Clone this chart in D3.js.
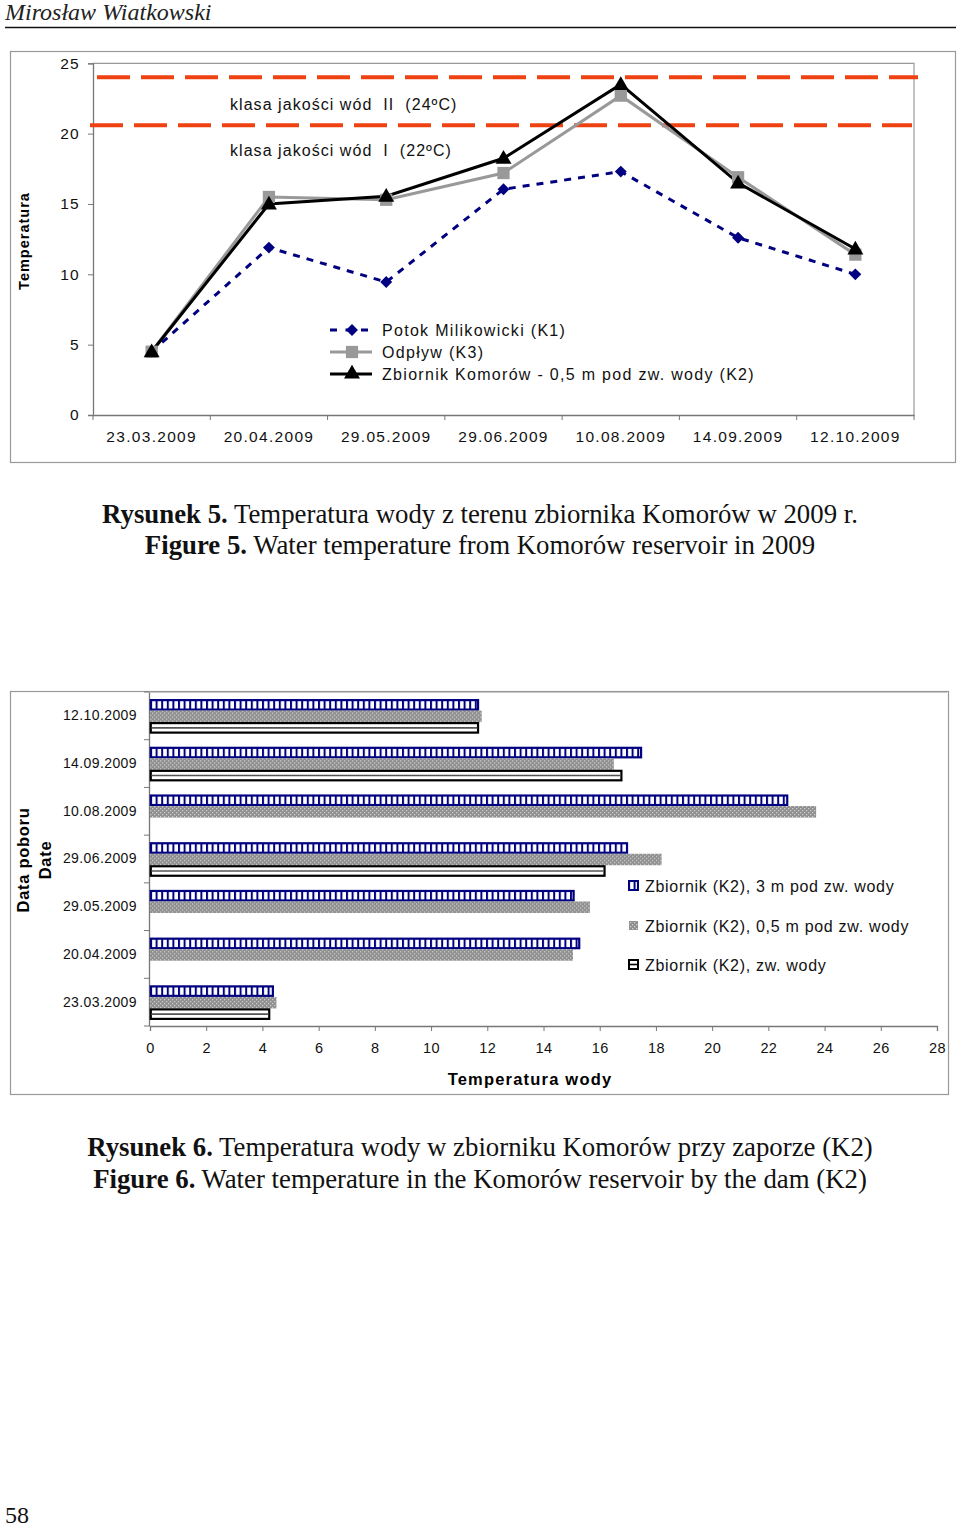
<!DOCTYPE html>
<html>
<head>
<meta charset="utf-8">
<script src="https://cdn.jsdelivr.net/npm/d3@7"></script>
<style>
  body { margin: 0; background: #fff; }
  svg { display: block; }
  text { white-space: pre; }
</style>
</head>
<body>
<svg id="page" width="960" height="1527"></svg>
<script>
(function() {
  // ---- data ----
  var dates = ["23.03.2009", "20.04.2009", "29.05.2009", "29.06.2009", "10.08.2009", "14.09.2009", "12.10.2009"];

  // figure 5 (line chart)
  var k1 = [4.5, 11.9, 9.45, 16.05, 17.3, 12.6, 10.0];   // Potok Milikowicki
  var k3 = [4.5, 15.5, 15.3, 17.2, 22.7, 16.9, 11.4];    // Odpływ
  var k2 = [4.5, 15.0, 15.55, 18.25, 23.5, 16.5, 11.8];  // Zbiornik 0,5 m
  var refLines = [24.0, 20.6];
  var refLabels = ["klasa jakości wód  II  (24\u00BAC)", "klasa jakości wód  I  (22\u00BAC)"];
  var yTicksLine = [0, 5, 10, 15, 20, 25];

  // figure 6 (bar chart)
  var bar3m  = [4.4, 15.3, 15.1, 17.0, 22.7, 17.5, 11.7];
  var bar05m = [4.5, 15.05, 15.65, 18.2, 23.7, 16.5, 11.8];
  var barSurf = [4.27, null, null, 16.2, null, 16.8, 11.7];
  var xTicksBar = d3.range(0, 29, 2);
  var barSeries = ["Zbiornik (K2), 3 m pod zw. wody", "Zbiornik (K2), 0,5 m pod zw. wody", "Zbiornik (K2), zw. wody"];

  var svg = d3.select("#page");
  var sans = "Liberation Sans, Arial, sans-serif";
  var serif = "Liberation Serif, Times New Roman, serif";

  // ---- page header ----
  svg.append("text").attr("x", 5).attr("y", 20)
    .style("font-family", serif).style("font-style", "italic").style("font-size", "24px")
    .style("fill", "#222").text("Mirosław Wiatkowski");
  svg.append("line").attr("x1", 5).attr("x2", 956).attr("y1", 27.5).attr("y2", 27.5)
    .attr("stroke", "#111").attr("stroke-width", 1.5);

  // ---- patterns ----
  var defs = svg.append("defs");
  var pStripe = defs.append("pattern").attr("id", "stripe").attr("patternUnits", "userSpaceOnUse")
    .attr("width", 5.6).attr("height", 10);
  pStripe.append("rect").attr("width", 5.6).attr("height", 10).attr("fill", "#fff");
  pStripe.append("rect").attr("width", 2).attr("height", 10).attr("fill", "#000080");

  var pDots = defs.append("pattern").attr("id", "dots").attr("patternUnits", "userSpaceOnUse")
    .attr("width", 4).attr("height", 4);
  pDots.append("rect").attr("width", 4).attr("height", 4).attr("fill", "#8e8e8e");
  pDots.append("rect").attr("x", 0).attr("y", 0).attr("width", 1.3).attr("height", 1.3).attr("fill", "#cfcfcf");
  pDots.append("rect").attr("x", 2).attr("y", 2).attr("width", 1.3).attr("height", 1.3).attr("fill", "#cfcfcf");

  // =========== Figure 5 ===========
  svg.append("rect").attr("x", 10.5).attr("y", 51.5).attr("width", 945).attr("height", 411)
    .attr("fill", "none").attr("stroke", "#999").attr("stroke-width", 1.2);

  var L = {left: 93, right: 914, top: 63.3, bottom: 415};
  var x1 = d3.scaleBand().domain(dates).range([L.left, L.right]);
  var y1 = d3.scaleLinear().domain([0, 25]).range([L.bottom, L.top]);
  var cx = function(d) { return x1(d) + x1.bandwidth() / 2; };

  var g1 = svg.append("g");
  // plot border (top, right)
  g1.append("path").attr("d", "M" + L.left + "," + L.top + "H" + L.right + "V" + L.bottom)
    .attr("fill", "none").attr("stroke", "#999").attr("stroke-width", 1.2);

  var yAx = g1.append("g").attr("transform", "translate(" + L.left + ",0)")
    .call(d3.axisLeft(y1).tickValues(yTicksLine).tickSize(5).tickPadding(8));
  var xAx = g1.append("g").attr("transform", "translate(0," + L.bottom + ")")
    .call(d3.axisBottom(x1).tickSize(0).tickPadding(16));
  [yAx, xAx].forEach(function(a) {
    a.select(".domain").attr("stroke", "#777").attr("stroke-width", 1.3);
    a.selectAll(".tick line").attr("stroke", "#777");
    a.selectAll("text").style("font-family", sans).style("font-size", "15.5px")
      .style("letter-spacing", "1.3px").attr("fill", "#111");
  });
  // category boundary ticks
  g1.selectAll(".xb").data(dates.concat(["end"])).join("line")
    .attr("x1", function(d, i) { return L.left + i * x1.bandwidth(); })
    .attr("x2", function(d, i) { return L.left + i * x1.bandwidth(); })
    .attr("y1", L.bottom).attr("y2", L.bottom + 5).attr("stroke", "#777");

  // reference lines
  g1.selectAll(".ref").data(refLines).join("line")
    .attr("x1", function(d, i) { return i === 0 ? 97 : 90; })
    .attr("x2", function(d, i) { return i === 0 ? 918 : 912; })
    .attr("y1", function(d) { return y1(d); }).attr("y2", function(d) { return y1(d); })
    .attr("stroke", "#ee4212").attr("stroke-width", 4).attr("stroke-dasharray", "33,11");
  g1.selectAll(".refl").data(refLabels).join("text")
    .attr("x", 230).attr("y", function(d, i) { return i === 0 ? 110 : 156; })
    .style("font-family", sans).style("font-size", "16px").style("letter-spacing", "1.05px")
    .attr("fill", "#111")
    .text(function(d) { return d; });

  // y title
  g1.append("text").attr("transform", "translate(29,241) rotate(-90)")
    .attr("text-anchor", "middle").style("font-family", sans).style("font-size", "14.5px")
    .style("font-weight", "bold").style("letter-spacing", "1px").text("Temperatura");

  var line = function(vals) {
    return d3.line().x(function(d, i) { return cx(dates[i]); }).y(function(d) { return y1(d); })(vals);
  };
  g1.append("path").attr("d", line(k1)).attr("fill", "none").attr("stroke", "#000080")
    .attr("stroke-width", 3).attr("stroke-dasharray", "7,7");
  g1.append("path").attr("d", line(k3)).attr("fill", "none").attr("stroke", "#999")
    .attr("stroke-width", 3);
  g1.append("path").attr("d", line(k2)).attr("fill", "none").attr("stroke", "#000")
    .attr("stroke-width", 3);

  var diamond = d3.symbol().type(d3.symbolDiamond2).size(90);
  var square = d3.symbol().type(d3.symbolSquare).size(150);
  var triangle = d3.symbol().type(d3.symbolTriangle).size(110);
  g1.selectAll(".m1").data(k1).join("path")
    .attr("transform", function(d, i) { return "translate(" + cx(dates[i]) + "," + y1(d) + ")"; })
    .attr("d", diamond).attr("fill", "#000080");
  g1.selectAll(".m3").data(k3).join("path")
    .attr("transform", function(d, i) { return "translate(" + cx(dates[i]) + "," + y1(d) + ")"; })
    .attr("d", square).attr("fill", "#999");
  g1.selectAll(".m2").data(k2).join("path")
    .attr("transform", function(d, i) { return "translate(" + cx(dates[i]) + "," + (y1(d) + 1) + ")"; })
    .attr("d", triangle).attr("fill", "#000");

  // legend
  var lg = g1.append("g").attr("transform", "translate(330,330)");
  lg.append("line").attr("x1", 0).attr("x2", 42).attr("y1", 0).attr("y2", 0)
    .attr("stroke", "#000080").attr("stroke-width", 3).attr("stroke-dasharray", "7,8.5");
  lg.append("path").attr("transform", "translate(22,0)").attr("d", diamond).attr("fill", "#000080");
  lg.append("line").attr("x1", 0).attr("x2", 42).attr("y1", 22).attr("y2", 22)
    .attr("stroke", "#999").attr("stroke-width", 3);
  lg.append("path").attr("transform", "translate(22,22)").attr("d", square).attr("fill", "#999");
  lg.append("line").attr("x1", 0).attr("x2", 42).attr("y1", 44).attr("y2", 44)
    .attr("stroke", "#000").attr("stroke-width", 3);
  lg.append("path").attr("transform", "translate(22,44)").attr("d", triangle).attr("fill", "#000");
  lg.selectAll("text").data(["Potok Milikowicki (K1)", "Odpływ (K3)", "Zbiornik Komorów - 0,5 m pod zw. wody (K2)"])
    .join("text").attr("x", 52).attr("y", function(d, i) { return i * 22 + 5.5; })
    .style("font-family", sans).style("font-size", "16px").style("letter-spacing", "1.3px")
    .attr("fill", "#111")
    .text(function(d) { return d; });

  // captions
  function caption(y, bold, rest) {
    var t = svg.append("text").attr("x", 480).attr("y", y).attr("text-anchor", "middle")
      .style("font-family", serif).style("font-size", "26.8px").attr("fill", "#111");
    t.append("tspan").style("font-weight", "bold").text(bold);
    t.append("tspan").text(rest);
  }
  caption(523, "Rysunek 5.", " Temperatura wody z terenu zbiornika Komorów w 2009 r.");
  caption(554, "Figure 5.", " Water temperature from Komorów reservoir in 2009");

  // =========== Figure 6 ===========
  svg.append("rect").attr("x", 10.5).attr("y", 691.5).attr("width", 938).attr("height", 403)
    .attr("fill", "none").attr("stroke", "#999").attr("stroke-width", 1.2);

  var B = {left: 149, right: 937, top: 692, bottom: 1026};
  var xb = d3.scaleLinear().domain([0, 28]).range([150, 937]);
  var yb = d3.scaleBand().domain(dates).range([B.bottom, B.top]);
  var sub = d3.scaleBand().domain([0, 1, 2]).range([0, 34.5]);
  var off = (yb.bandwidth() - 34.5) / 2 + 0.5;

  var g2 = svg.append("g");
  g2.append("path").attr("d", "M" + B.left + "," + B.top + "H947")
    .attr("fill", "none").attr("stroke", "#999");
  var xbAx = g2.append("g").attr("transform", "translate(0," + B.bottom + ")")
    .call(d3.axisBottom(xb).tickValues(xTicksBar).tickSize(5).tickPadding(12));
  xbAx.select(".domain").attr("stroke", "#777").attr("stroke-width", 1.3);
  xbAx.selectAll(".tick line").attr("stroke", "#777");
  xbAx.selectAll("text").style("font-family", sans).style("font-size", "14.5px")
    .style("letter-spacing", "0.4px").attr("fill", "#111");

  var ybAx = g2.append("g").attr("transform", "translate(" + B.left + ",0)")
    .call(d3.axisLeft(yb).tickSize(0).tickPadding(12));
  ybAx.select(".domain").attr("stroke", "#777").attr("stroke-width", 1.3);
  ybAx.selectAll("text").style("font-family", sans).style("font-size", "14px")
    .style("letter-spacing", "0.4px").attr("fill", "#111");
  g2.selectAll(".yb").data(dates.concat(["end"])).join("line")
    .attr("x1", B.left - 5).attr("x2", B.left)
    .attr("y1", function(d, i) { return B.bottom - i * yb.bandwidth(); })
    .attr("y2", function(d, i) { return B.bottom - i * yb.bandwidth(); })
    .attr("stroke", "#777");

  var rows = [];
  dates.forEach(function(d, i) {
    rows.push({d: d, s: 0, v: bar3m[i]});
    rows.push({d: d, s: 1, v: bar05m[i]});
    if (barSurf[i] !== null) rows.push({d: d, s: 2, v: barSurf[i]});
  });
  var bars = g2.selectAll(".bar").data(rows).join("g")
    .attr("transform", function(r) { return "translate(" + xb(0) + "," + (yb(r.d) + off + sub(r.s)) + ")"; });
  bars.append("rect")
    .attr("x", function(r) { return r.s === 1 ? 0 : 0.8; })
    .attr("y", function(r) { return r.s === 1 ? 0 : 1; })
    .attr("width", function(r) { return xb(r.v) - xb(0) - (r.s === 1 ? 0 : 1.6); })
    .attr("height", function(r) { return r.s === 1 ? sub.bandwidth() : sub.bandwidth() - 2; })
    .attr("fill", function(r) { return r.s === 0 ? "url(#stripe)" : r.s === 1 ? "url(#dots)" : "#fff"; })
    .attr("stroke", function(r) { return r.s === 0 ? "#000080" : r.s === 2 ? "#000" : "none"; })
    .attr("stroke-width", 2.2);
  bars.filter(function(r) { return r.s === 2; }).append("line")
    .attr("x1", 1.5).attr("x2", function(r) { return xb(r.v) - xb(0) - 1.5; })
    .attr("y1", sub.bandwidth() / 2).attr("y2", sub.bandwidth() / 2)
    .attr("stroke", "#555").attr("stroke-width", 1.6);

  g2.append("text").attr("x", 530).attr("y", 1085).attr("text-anchor", "middle")
    .style("font-family", sans).style("font-size", "16.5px").style("font-weight", "bold")
    .style("letter-spacing", "1.2px").text("Temperatura wody");
  var yt = g2.append("text").attr("transform", "translate(29,860) rotate(-90)")
    .attr("text-anchor", "middle").style("font-family", sans).style("font-size", "16.5px")
    .style("font-weight", "bold").style("letter-spacing", "0.7px");
  yt.append("tspan").attr("x", 0).attr("dy", 0).text("Data poboru");
  yt.append("tspan").attr("x", 0).attr("dy", 22).text("Date");

  // bar legend
  var bl = g2.selectAll(".bl").data(barSeries).join("g")
    .attr("transform", function(d, i) { return "translate(628," + [880, 920, 959][i] + ")"; });
  bl.append("rect").attr("x", 1).attr("y", 1).attr("width", 9).attr("height", 9)
    .attr("fill", function(d, i) { return i === 0 ? "url(#stripe)" : i === 1 ? "url(#dots)" : "#fff"; })
    .attr("stroke", function(d, i) { return i === 0 ? "#000080" : i === 2 ? "#000" : "none"; })
    .attr("stroke-width", 2);
  bl.filter(function(d, i) { return i === 2; }).append("line")
    .attr("x1", 1).attr("x2", 10).attr("y1", 5.5).attr("y2", 5.5).attr("stroke", "#000").attr("stroke-width", 1.6);
  bl.append("text").attr("x", 17).attr("y", 11.5)
    .style("font-family", sans).style("font-size", "16px").style("letter-spacing", "0.7px")
    .attr("fill", "#111")
    .text(function(d) { return d; });

  caption(1156, "Rysunek 6.", " Temperatura wody w zbiorniku Komorów przy zaporze (K2)");
  caption(1188, "Figure 6.", " Water temperature in the Komorów reservoir by the dam (K2)");

  svg.append("text").attr("x", 5).attr("y", 1523)
    .style("font-family", serif).style("font-size", "24px").attr("fill", "#111").text("58");
})();
</script>
</body>
</html>
